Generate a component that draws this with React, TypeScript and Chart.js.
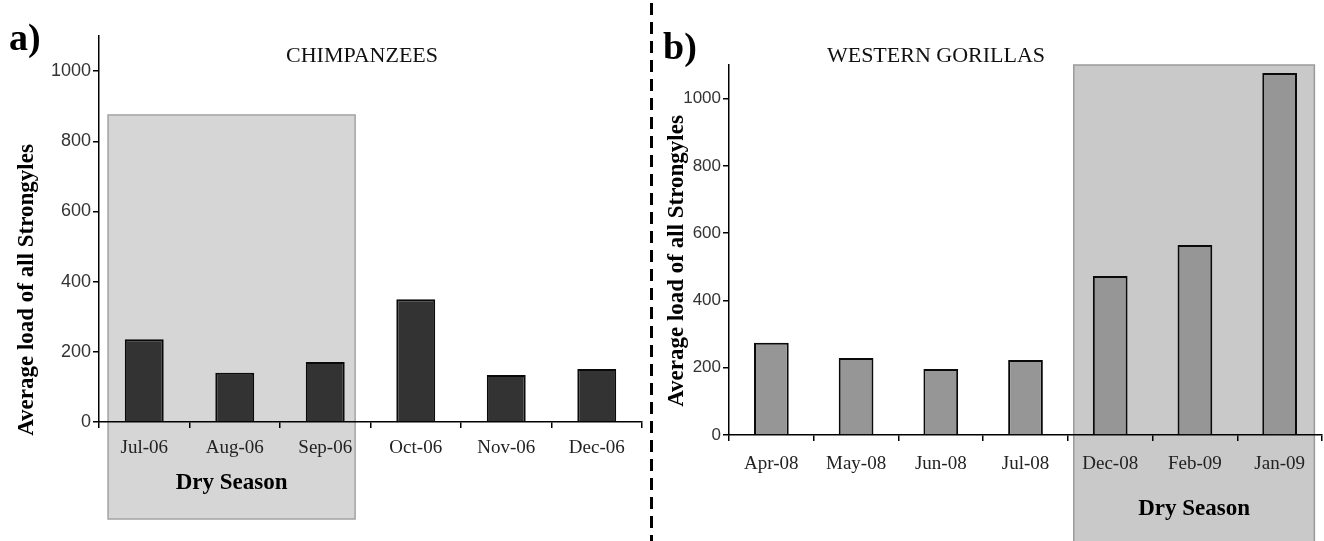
import React, { useEffect, useRef } from "react";
import { Chart, registerables } from "chart.js";

Chart.register(...registerables);

// ---- data ----
const chimpCategories = ["Jul-06", "Aug-06", "Sep-06", "Oct-06", "Nov-06", "Dec-06"];
const chimpValues = [236, 140, 171, 350, 134, 151];
const gorillaCategories = ["Apr-08", "May-08", "Jun-08", "Jul-08", "Dec-08", "Feb-09", "Jan-09"];
const gorillaValues = [274, 229, 196, 223, 473, 565, 1076];
const yTickValues = [0, 200, 400, 600, 800, 1000];
const yMax = 1100;

const SERIF = '"Liberation Serif", "DejaVu Serif", serif';
const SANS = '"Liberation Sans", Arial, sans-serif';

type PanelCfg = {
  letter: string;
  letterX: number;
  letterY: number;
  title: string;
  titleX: number;
  titleY: number;
  yTitleX: number;
  yTitleY: number;
  boxFrom: number;
  boxTo: number;
  boxLeftFrac: number;
  boxRightFrac: number;
  boxTopValue: number;
  boxBottom: number;
  boxFill: string;
  boxStroke: string;
  dryY: number;
  dashedX?: number;
};

function makePlugin(cfg: PanelCfg) {
  return {
    id: "panelDecor",
    beforeDraw(chart: any) {
      const { ctx } = chart;
      const x = chart.scales.x;
      const y = chart.scales.y;
      const n = chart.data.labels.length;
      const catW = (x.right - x.left) / n;
      const left = x.getPixelForValue(cfg.boxFrom) - cfg.boxLeftFrac * catW;
      const right = x.getPixelForValue(cfg.boxTo) + cfg.boxRightFrac * catW;
      const top = y.getPixelForValue(cfg.boxTopValue);
      ctx.save();
      ctx.fillStyle = "#ffffff";
      ctx.fillRect(0, 0, chart.width, chart.height);
      ctx.fillStyle = cfg.boxFill;
      ctx.fillRect(left, top, right - left, cfg.boxBottom - top);
      ctx.strokeStyle = cfg.boxStroke;
      ctx.lineWidth = 1.5;
      ctx.strokeRect(left, top, right - left, cfg.boxBottom - top);
      ctx.restore();
    },
    afterDraw(chart: any) {
      const { ctx } = chart;
      const x = chart.scales.x;
      const n = chart.data.labels.length;
      const catW = (x.right - x.left) / n;
      const left = x.getPixelForValue(cfg.boxFrom) - cfg.boxLeftFrac * catW;
      const right = x.getPixelForValue(cfg.boxTo) + cfg.boxRightFrac * catW;
      ctx.save();
      ctx.fillStyle = "#000";
      // panel letter
      ctx.font = `bold 38px ${SERIF}`;
      ctx.textAlign = "left";
      ctx.textBaseline = "alphabetic";
      ctx.fillText(cfg.letter, cfg.letterX, cfg.letterY);
      // title
      ctx.font = `22px ${SERIF}`;
      ctx.textAlign = "center";
      ctx.textBaseline = "middle";
      ctx.fillStyle = "#111";
      ctx.fillText(cfg.title, cfg.titleX, cfg.titleY);
      // dry season label
      ctx.font = `bold 23px ${SERIF}`;
      ctx.fillStyle = "#000";
      ctx.fillText("Dry Season", (left + right) / 2, cfg.dryY);
      // y title
      ctx.save();
      ctx.translate(cfg.yTitleX, cfg.yTitleY);
      ctx.rotate(-Math.PI / 2);
      ctx.font = `bold 23px ${SERIF}`;
      ctx.textAlign = "center";
      ctx.textBaseline = "middle";
      ctx.fillText("Average load of all Strongyles", 0, 0);
      ctx.restore();
      // dashed separator
      if (cfg.dashedX !== undefined) {
        ctx.strokeStyle = "#000";
        ctx.lineWidth = 3;
        ctx.setLineDash([12, 7]);
        ctx.beginPath();
        ctx.moveTo(cfg.dashedX, 3);
        ctx.lineTo(cfg.dashedX, chart.height);
        ctx.stroke();
      }
      ctx.restore();
    },
  };
}

function buildChart(
  canvas: HTMLCanvasElement,
  labels: string[],
  values: number[],
  opts: {
    barColor: string;
    barPct: number;
    yWidth: number;
    xHeight: number;
    padTop: number;
    padRight: number;
    yFontSize: number;
    xPadding: number;
  },
  cfg: PanelCfg
) {
  return new Chart(canvas, {
    type: "bar",
    data: {
      labels,
      datasets: [
        {
          data: values,
          backgroundColor: opts.barColor,
          borderColor: "#0a0a0a",
          borderWidth: 2,
          categoryPercentage: 1,
          barPercentage: opts.barPct,
        },
      ],
    },
    options: {
      responsive: false,
      animation: false,
      devicePixelRatio: 1,
      layout: { padding: { top: opts.padTop, right: opts.padRight, left: 0, bottom: 0 } },
      plugins: { legend: { display: false }, tooltip: { enabled: false }, title: { display: false } },
      scales: {
        x: {
          grid: { drawOnChartArea: false, drawTicks: true, tickLength: 6, color: "#000", lineWidth: 1.5, offset: true },
          border: { display: true, color: "#000", width: 1.5 },
          ticks: {
            color: "#222",
            font: { family: SERIF, size: 19 },
            padding: opts.xPadding,
            maxRotation: 0,
            autoSkip: false,
          },
          afterFit: (s: any) => {
            s.height = opts.xHeight;
          },
        },
        y: {
          min: 0,
          max: yMax,
          grid: { drawOnChartArea: false, drawTicks: true, tickLength: 6, color: "#000", lineWidth: 1.5 },
          border: { display: true, color: "#000", width: 1.5 },
          ticks: {
            color: "#333",
            font: { family: SANS, size: opts.yFontSize },
            padding: 2,
            callback: (v: any) => String(v),
          },
          afterBuildTicks: (s: any) => {
            s.ticks = yTickValues.map((v) => ({ value: v }));
          },
          afterFit: (s: any) => {
            s.width = opts.yWidth;
          },
        },
      },
    },
    plugins: [makePlugin(cfg)],
  } as any);
}

export default function App() {
  const refA = useRef<HTMLCanvasElement>(null);
  const refB = useRef<HTMLCanvasElement>(null);

  useEffect(() => {
    const a = buildChart(
      refA.current!,
      chimpCategories,
      chimpValues,
      { barColor: "#333333", barPct: 0.43, yWidth: 99, xHeight: 119, padTop: 36, padRight: 14, yFontSize: 18, xPadding: 9 },
      {
        letter: "a)",
        letterX: 9,
        letterY: 50,
        title: "CHIMPANZEES",
        titleX: 362,
        titleY: 56,
        yTitleX: 27,
        yTitleY: 290,
        boxFrom: 0,
        boxTo: 2,
        boxLeftFrac: 0.4,
        boxRightFrac: 0.33,
        boxTopValue: 875,
        boxBottom: 519,
        boxFill: "#d6d6d6",
        boxStroke: "#a3a3a3",
        dryY: 483,
        dashedX: 651.5,
      }
    );
    const b = buildChart(
      refB.current!,
      gorillaCategories,
      gorillaValues,
      { barColor: "#969696", barPct: 0.41, yWidth: 73, xHeight: 106, padTop: 65, padRight: 2, yFontSize: 17, xPadding: 12 },
      {
        letter: "b)",
        letterX: 7,
        letterY: 59,
        title: "WESTERN GORILLAS",
        titleX: 936 - 656,
        titleY: 56,
        yTitleX: 21,
        yTitleY: 261,
        boxFrom: 4,
        boxTo: 6,
        boxLeftFrac: 0.43,
        boxRightFrac: 0.41,
        boxTopValue: 1100,
        boxBottom: 545,
        boxFill: "#c9c9c9",
        boxStroke: "#9a9a9a",
        dryY: 509,
      }
    );
    return () => {
      a.destroy();
      b.destroy();
    };
  }, []);

  return (
    <div style={{ position: "fixed", left: 0, top: 0, width: 1324, height: 541, background: "#fff", overflow: "hidden" }}>
      <canvas ref={refA} width={656} height={541} style={{ position: "absolute", left: 0, top: 0, width: 656, height: 541 }} />
      <canvas ref={refB} width={668} height={541} style={{ position: "absolute", left: 656, top: 0, width: 668, height: 541 }} />
    </div>
  );
}
